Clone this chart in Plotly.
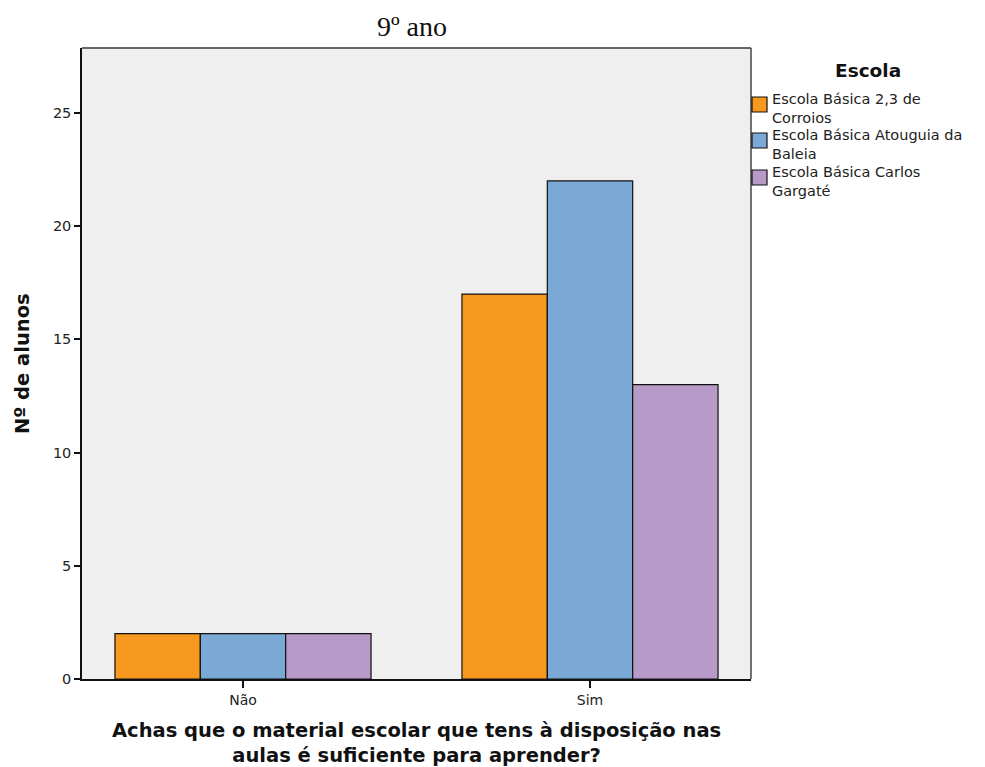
import plotly.graph_objects as go

# Data
categories = ["Não", "Sim"]
schools = [
    "Escola Básica 2,3 de Corroios",
    "Escola Básica Atouguia da Baleia",
    "Escola Básica Carlos Gargaté",
]
legend_labels = [
    "Escola Básica 2,3 de<br>Corroios",
    "Escola Básica Atouguia da<br>Baleia",
    "Escola Básica Carlos<br>Gargaté",
]
counts = [
    [2, 17],
    [2, 22],
    [2, 13],
]
colors = ["#F7981F", "#7BA9D5", "#B89AC8"]
y_ticks = [0, 5, 10, 15, 20, 25]

W, H = 985, 767
L, R, T, B = 82, 751, 48, 679  # plot-area edges in pixels

SANS = "DejaVu Sans, Verdana, sans-serif"


def px(x):
    return (x - L) / (R - L)


def py(y):
    return (B - y) / (B - T)


fig = go.Figure()
for name, vals, col in zip(schools, counts, colors):
    fig.add_trace(go.Bar(
        x=categories, y=vals, name=name,
        marker=dict(color=col, line=dict(color="#111111", width=1.2)),
        showlegend=False,
    ))

fig.update_layout(
    width=W, height=H,
    margin=dict(l=L, r=W - R, t=T, b=H - B),
    paper_bgcolor="white",
    plot_bgcolor="#EFEFEF",
    barmode="group",
    bargap=0.262,
    bargroupgap=0,
    font=dict(family=SANS, color="#222222"),
    title=dict(
        text="9º ano", xref="paper", x=px(412), xanchor="center",
        yref="container", y=1 - 26 / H, yanchor="middle",
        font=dict(family="Liberation Serif, Times New Roman, serif", size=28, color="#111111"),
    ),
)

fig.update_xaxes(
    range=[-0.464, 1.464],
    showgrid=False, zeroline=False,
    showline=True, linecolor="#111111", linewidth=1.5,
    ticks="outside", ticklen=7, tickwidth=1.5, tickcolor="#111111",
    tickfont=dict(family=SANS, size=14, color="#222222"),
)
fig.update_yaxes(
    range=[0, 27.87],
    tickvals=y_ticks,
    showgrid=False, zeroline=False,
    showline=True, linecolor="#111111", linewidth=1.5,
    ticks="outside", ticklen=6, tickwidth=1.5, tickcolor="#111111",
    tickfont=dict(family=SANS, size=14.5, color="#222222"),
)

# Frame on top and right of the plot area
fig.add_shape(type="line", xref="paper", yref="paper", x0=0, x1=1, y0=1, y1=1,
              line=dict(color="#666666", width=2))
fig.add_shape(type="line", xref="paper", yref="paper", x0=1, x1=1, y0=0, y1=1,
              line=dict(color="#444444", width=1.5))

# Axis titles
fig.add_annotation(
    text="Nº de alunos", xref="paper", yref="paper", x=px(22), y=py(364),
    xanchor="center", yanchor="middle", textangle=-90, showarrow=False,
    font=dict(family=SANS, size=19.5, color="#111111", weight="bold"),
)
fig.add_annotation(
    text="Achas que o material escolar que tens à disposição nas<br>aulas é suficiente para aprender?",
    xref="paper", yref="paper", x=px(416), y=py(743),
    xanchor="center", yanchor="middle", showarrow=False,
    font=dict(family=SANS, size=19.5, color="#111111", weight="bold"),
)

# Legend
fig.add_annotation(
    text="Escola", xref="paper", yref="paper", x=px(868), y=py(70),
    xanchor="center", yanchor="middle", showarrow=False,
    font=dict(family=SANS, size=18.5, color="#111111", weight="bold"),
)
swatch_tops = [97, 133, 170]
for label, col, top in zip(legend_labels, colors, swatch_tops):
    fig.add_shape(type="rect", xref="paper", yref="paper",
                  x0=px(752), x1=px(767), y0=py(top), y1=py(top + 15),
                  fillcolor=col, line=dict(color="#111111", width=1.2))
    fig.add_annotation(
        text=label, xref="paper", yref="paper", x=px(770), y=py(top + 11.5),
        xanchor="left", yanchor="middle", align="left", showarrow=False,
        font=dict(family=SANS, size=14.5, color="#222222"),
    )

fig.write_html("out.html")
